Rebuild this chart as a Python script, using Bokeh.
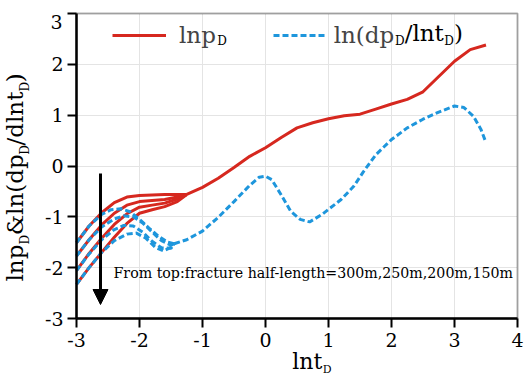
import math
from bokeh.plotting import figure
from bokeh.models import Label, Arrow, NormalHead, Legend, LegendItem, BoxAnnotation
from bokeh.embed import file_html
from bokeh.resources import INLINE

# ---------------- data ----------------
x_ticks = [-3, -2, -1, 0, 1, 2, 3, 4]
y_ticks = [-3, -2, -1, 0, 1, 2, 3]
half_lengths = ["300m", "250m", "200m", "150m"]

# early-time lnpD curves (one per fracture half-length)
red_x_early = [-3.0, -2.8, -2.6, -2.4, -2.2, -2.0, -1.8, -1.6, -1.4, -1.25]
red_300 = [-1.51, -1.18, -0.92, -0.72, -0.61, -0.58, -0.57, -0.56, -0.56, -0.56]
red_250 = [-1.77, -1.45, -1.16, -0.93, -0.77, -0.70, -0.68, -0.66, -0.61, -0.56]
red_200 = [-2.06, -1.72, -1.42, -1.15, -0.94, -0.81, -0.77, -0.73, -0.65, -0.56]
red_150 = [-2.33, -2.00, -1.70, -1.40, -1.13, -0.93, -0.86, -0.80, -0.70, -0.56]

# common lnpD curve
red_x = [-1.25, -1.0, -0.75, -0.5, -0.25, 0.0, 0.25, 0.5, 0.75, 1.0, 1.25, 1.5,
         1.75, 2.0, 2.25, 2.5, 2.75, 3.0, 3.25, 3.5]
red_y = [-0.56, -0.42, -0.24, -0.03, 0.19, 0.36, 0.56, 0.75, 0.85, 0.93, 0.99, 1.02,
         1.12, 1.22, 1.31, 1.46, 1.76, 2.06, 2.29, 2.38]

# early-time derivative curves
blue_300_x = [-3.0, -2.8, -2.6, -2.45, -2.3, -2.15, -2.0, -1.85, -1.7, -1.55, -1.45]
blue_300_y = [-1.51, -1.18, -0.95, -0.86, -0.84, -0.90, -1.05, -1.22, -1.38, -1.50, -1.53]
blue_250_x = [-3.0, -2.8, -2.6, -2.4, -2.25, -2.1, -1.95, -1.8, -1.65, -1.5, -1.45]
blue_250_y = [-1.77, -1.45, -1.20, -1.04, -0.98, -1.00, -1.12, -1.30, -1.47, -1.56, -1.53]
blue_200_x = [-3.0, -2.8, -2.6, -2.4, -2.25, -2.1, -1.95, -1.8, -1.65, -1.5, -1.45]
blue_200_y = [-2.06, -1.73, -1.45, -1.25, -1.17, -1.18, -1.30, -1.48, -1.61, -1.62, -1.53]
blue_150_x = [-3.0, -2.8, -2.6, -2.4, -2.2, -2.05, -1.9, -1.75, -1.62, -1.5, -1.45]
blue_150_y = [-2.33, -2.00, -1.70, -1.47, -1.34, -1.32, -1.42, -1.60, -1.67, -1.60, -1.53]

# common derivative curve
blue_x = [-1.45, -1.25, -1.0, -0.75, -0.5, -0.25, -0.1, 0.0, 0.1, 0.25, 0.4, 0.55,
          0.7, 0.9, 1.2, 1.4, 1.55, 1.75, 2.0, 2.25, 2.5, 2.75, 3.0, 3.15, 3.3,
          3.42, 3.5]
blue_y = [-1.53, -1.45, -1.28, -1.01, -0.70, -0.38, -0.22, -0.20, -0.27, -0.57, -0.89,
          -1.05, -1.10, -0.95, -0.66, -0.40, -0.12, 0.22, 0.52, 0.75, 0.92, 1.06, 1.18,
          1.15, 0.98, 0.72, 0.46]

RED = "#d6281f"
BLUE = "#1e96dc"
FONT = "DejaVu Serif"

# plot box in page pixels: x -3..4 -> 76..517, y 3..-3 -> 13..318
XS = (517 - 76) / 7.0
YS = (318 - 13) / 6.0

def px2x(px):
    return (px - 76) / XS - 3

def py2y(py):
    return 3 - (py - 13) / YS

p = figure(width=525, height=376,
           x_range=(px2x(0), px2x(525)), y_range=(py2y(376), py2y(0)),
           output_backend="svg", toolbar_location=None, min_border=0)
p.outline_line_color = None

# axes drawn at the box edges
p.xaxis.fixed_location = -3
p.yaxis.fixed_location = -3
p.xaxis.bounds = (-3, 4)
p.yaxis.bounds = (-3, 3)
p.xaxis.ticker = x_ticks
p.yaxis.ticker = y_ticks
p.xgrid.ticker = x_ticks
p.ygrid.ticker = y_ticks
p.xgrid.bounds = (-3, 4)
p.ygrid.bounds = (-3, 3)
p.xgrid.cross_bounds = (-3, 3)
p.ygrid.cross_bounds = (-3, 4)
p.grid.grid_line_color = "#e4e4e4"
p.grid.grid_line_width = 1
p.axis.axis_line_width = 2.5
p.axis.axis_line_color = "black"
p.axis.major_tick_line_width = 2
p.axis.major_tick_line_color = "black"
p.axis.major_tick_out = 9
p.axis.major_tick_in = 0
p.axis.minor_tick_line_color = None
p.axis.major_label_text_font = FONT
p.axis.major_label_text_font_size = "19px"
p.axis.major_label_text_color = "black"
p.xaxis.major_label_standoff = 5
p.yaxis.major_label_standoff = 4
p.xaxis.major_label_overrides = {t: str(t) for t in x_ticks}
ov = {t: str(t) for t in y_ticks}
ov[3] = ""
p.yaxis.major_label_overrides = ov

# box outline (top and right edges)
p.add_layout(BoxAnnotation(left=-3, right=4, bottom=-3, top=3, fill_alpha=0,
                           line_color="black", line_width=2, level="underlay"))

# lnpD curves
for ys in [red_300, red_250, red_200, red_150]:
    p.line(red_x_early, ys, line_color=RED, line_width=3)
r_red = p.line(red_x, red_y, line_color=RED, line_width=3)

# derivative curves
for xs, ys in [(blue_300_x, blue_300_y), (blue_250_x, blue_250_y),
               (blue_200_x, blue_200_y), (blue_150_x, blue_150_y)]:
    p.line(xs, ys, line_color=BLUE, line_width=3, line_dash="6 3")
r_blue = p.line(blue_x, blue_y, line_color=BLUE, line_width=3, line_dash="6 3")

# legends (one per item, to match positions)
common = dict(orientation="horizontal", padding=0, margin=0, border_line_alpha=0,
              background_fill_alpha=0, label_text_font=FONT,
              label_text_font_size="23px", glyph_width=54, glyph_height=20,
              label_height=20)
leg1 = Legend(items=[LegendItem(label="lnp", renderers=[r_red])],
              location=(112, 328), label_standoff=13, **common)
leg2 = Legend(items=[LegendItem(label="ln(dp", renderers=[r_blue])],
              location=(272.7, 328), label_standoff=7, **common)
p.add_layout(leg1)
p.add_layout(leg2)

W = {"l": .320, "n": .644, "p": .640, "d": .640, "t": .402, "(": .390, ")": .390,
     "/": .337, "&": .872, "D": .771}

def tw(txt, sz):
    return sum(W[c] for c in txt) * sz

def lab(text, px, py, size, **kw):
    p.add_layout(Label(x=px2x(px), y=py2y(py), text=text, text_font=FONT,
                       text_font_size=size, text_color="black", **kw))

# legend subscripts and remaining pieces
lab("D", 179.3 + tw("lnp", 23) + 0.5, 47, "12px")
xc = 333.3 + tw("ln(dp", 23)
lab("D", xc + 0.5, 47, "12px"); xc += tw("D", 12) + 1
lab("/lnt", xc, 45.5, "23px"); xc += tw("/lnt", 23)
lab("D", xc + 0.5, 47, "12px"); xc += tw("D", 12) + 1
lab(")", xc, 45.5, "23px")

# top y tick label
lab("3", 62, 21.7, "19px", text_align="right", text_baseline="middle")

# x axis label
lab("lnt", 291.7, 373, "22px")
lab("D", 291.7 + tw("lnt", 22) + 0.5, 375, "11px")

# y axis label (rotated, composed of pieces)
pieces = [("lnp", 23, 0), ("D", 12, 4), ("&ln(dp", 23, 0), ("D", 12, 4),
          ("/dlnt", 23, 0), ("D", 12, 4), (")", 23, 0)]
ycur = 281.0
for txt, sz, dx in pieces:
    lab(txt, 27 + dx, ycur, f"{sz}px", angle=math.pi / 2)
    ycur -= tw(txt, sz)

# annotation text and arrow
lab("From top:fracture half-length=" + ",".join(half_lengths), 113, 280.7, "14.2px")
p.add_layout(Arrow(x_start=px2x(100), y_start=py2y(173), x_end=px2x(100),
                   y_end=py2y(304), line_width=3, line_color="black",
                   end=NormalHead(size=15, fill_color="black", line_color="black")))

open("out.html", "w").write(file_html(p, INLINE))
